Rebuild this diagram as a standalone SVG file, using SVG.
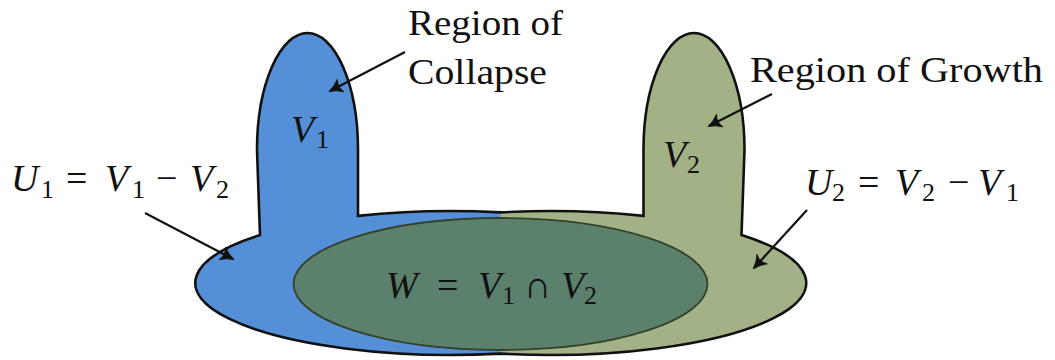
<svg xmlns="http://www.w3.org/2000/svg" width="1055" height="360" viewBox="0 0 1055 360">
<style>
.arr{stroke:#111;stroke-width:2.2;fill:none;marker-end:url(#ah)}
</style>
<defs>
<marker id="ah" markerUnits="userSpaceOnUse" viewBox="-14 -8 16 16" refX="0" refY="0" markerWidth="16" markerHeight="16" orient="auto">
<path d="M1,0 Q-6,-2 -12,-7 Q-8,0 -12,7 Q-6,2 1,0 Z" fill="#111" stroke="#111" stroke-width="0.8" stroke-linejoin="round"/>
</marker>
<clipPath id="rightHalf"><rect x="500.75" y="0" width="560" height="360"/></clipPath>
</defs>
<g id="V1-region">
<path d="M358,215.9 L358,150 A50.5,117 0 0 0 257,150 L260,235.1 A256,72 0 1 0 358,215.9 Z" fill="#558fd7"/>
</g>
<g id="V2-region">
<path clip-path="url(#rightHalf)" d="M643.5,215.9 L643.5,150 A50.5,117 0 0 1 744.5,150 L741.5,235.1 A256,72 0 1 1 643.5,215.9 Z" fill="#a3b286"/>
</g>
<g id="W-region">
<ellipse cx="500.5" cy="284" rx="207" ry="66" fill="#5b816c" stroke="#34422b" stroke-width="1.8"/>
</g>
<g id="outline">
<path d="M358,215.9 L358,150 A50.5,117 0 0 0 257,150 L260,235.1 A256,72 0 0 0 500.75,353.6 A256,72 0 0 0 741.5,235.1 L744.5,150 A50.5,117 0 0 0 643.5,150 L643.5,215.9 A256,72 0 0 0 500.75,212.4 A256,72 0 0 0 358,215.9 Z" fill="none" stroke="#111" stroke-width="2.6"/>
</g>
<g id="labels-in" fill="#111">
<text font-family="Liberation Serif" font-size="38"><tspan font-style="italic" x="291" y="142">V</tspan><tspan font-size="26" x="316" y="148">1</tspan></text>
<text font-family="Liberation Serif" font-size="38"><tspan font-style="italic" x="663" y="167">V</tspan><tspan font-size="26" x="687" y="173">2</tspan></text>
<text font-family="Liberation Serif" font-size="38"><tspan font-style="italic" x="386" y="298">W</tspan><tspan x="437" y="298">=</tspan><tspan font-style="italic" x="478" y="298">V</tspan><tspan font-size="26" x="502" y="304">1</tspan><tspan x="524" y="298">∩</tspan><tspan font-style="italic" x="561" y="298">V</tspan><tspan font-size="26" x="584" y="304">2</tspan></text>
</g>
<g id="U1-label" fill="#111">
<text font-family="Liberation Serif" font-size="38"><tspan font-style="italic" x="11" y="191">U</tspan><tspan font-size="26" x="41" y="198">1</tspan><tspan x="66" y="191">=</tspan><tspan font-style="italic" x="105" y="191">V</tspan><tspan font-size="26" x="132" y="198">1</tspan><tspan x="156" y="191">−</tspan><tspan font-style="italic" x="190" y="191">V</tspan><tspan font-size="26" x="216" y="198">2</tspan></text>
</g>
<g id="U2-label" fill="#111">
<text font-family="Liberation Serif" font-size="38"><tspan font-style="italic" x="805" y="195">U</tspan><tspan font-size="26" x="832" y="201">2</tspan><tspan x="858" y="195">=</tspan><tspan font-style="italic" x="895" y="195">V</tspan><tspan font-size="26" x="922" y="201">2</tspan><tspan x="948" y="195">−</tspan><tspan font-style="italic" x="978" y="195">V</tspan><tspan font-size="26" x="1006" y="201">1</tspan></text>
</g>
<g id="collapse-label" fill="#111">
<text font-family="Liberation Serif" font-size="35" x="408" y="35" textLength="155" lengthAdjust="spacingAndGlyphs">Region of</text>
<text font-family="Liberation Serif" font-size="35" x="408" y="84" textLength="139" lengthAdjust="spacingAndGlyphs">Collapse</text>
</g>
<g id="growth-label" fill="#111">
<text font-family="Liberation Serif" font-size="35" x="750" y="82" textLength="293" lengthAdjust="spacingAndGlyphs">Region of Growth</text>
</g>
<g id="connectors">
<line class="arr" x1="405" y1="52" x2="330" y2="91"/>
<line class="arr" x1="772" y1="94" x2="709" y2="126"/>
<line class="arr" x1="145" y1="213" x2="233" y2="259"/>
<line class="arr" x1="807" y1="210" x2="754" y2="268"/>
</g>
</svg>
